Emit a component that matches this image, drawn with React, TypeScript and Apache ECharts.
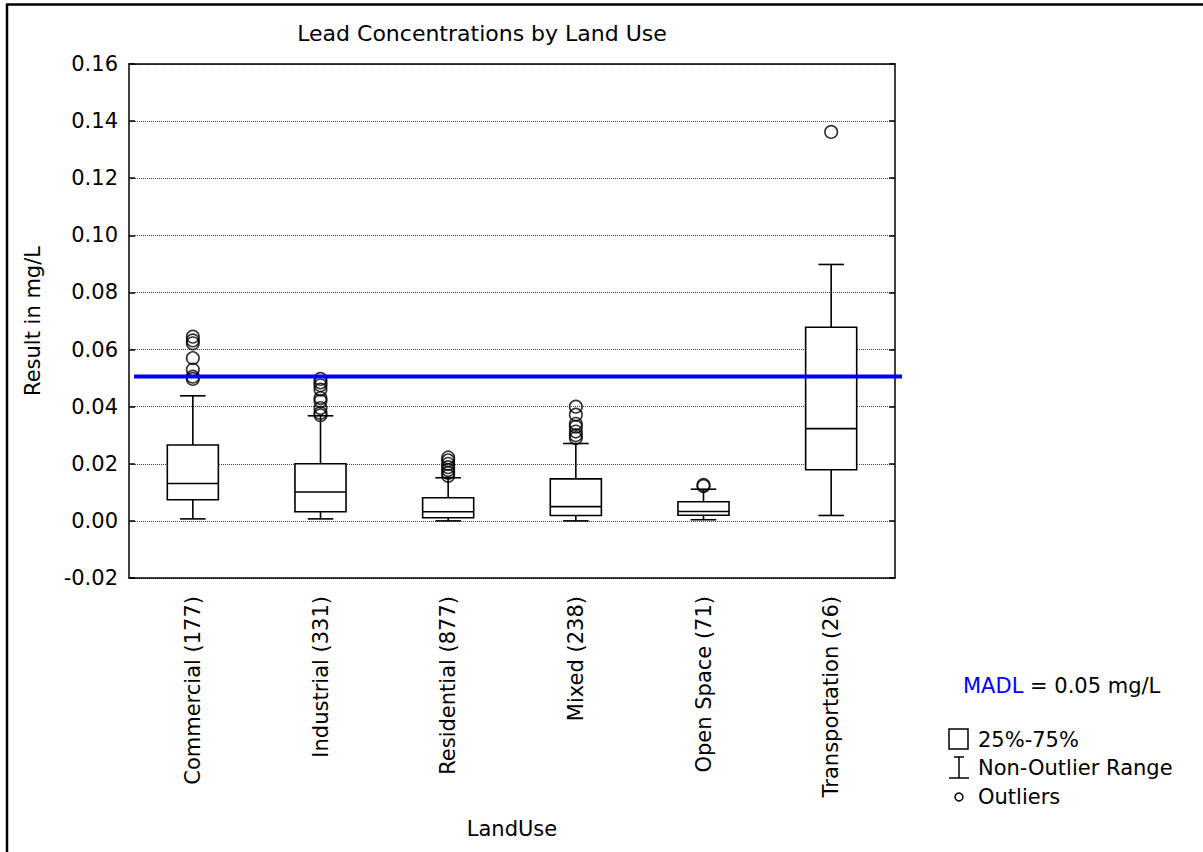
import React, { useEffect, useRef } from "react";
import * as echarts from "echarts";

const categories = [
  "Commercial (177)",
  "Industrial (331)",
  "Residential (877)",
  "Mixed (238)",
  "Open Space (71)",
  "Transportation (26)",
];
const whiskerLow = [0.0007, 0.0007, 0.0, 0.0, 0.0004, 0.0019];
const q1 = [0.0074, 0.0032, 0.0011, 0.0019, 0.002, 0.0179];
const median = [0.0131, 0.0101, 0.0032, 0.005, 0.0033, 0.0323];
const q3 = [0.0266, 0.02, 0.0081, 0.0147, 0.0067, 0.0678];
const whiskerHigh = [0.0438, 0.0368, 0.0151, 0.0271, 0.0111, 0.0898];
const outlierCommercial = [0.0645, 0.0632, 0.0622, 0.057, 0.053, 0.0505, 0.0497];
const outlierIndustrial = [0.0497, 0.0485, 0.0475, 0.046, 0.043, 0.042, 0.0395, 0.0378, 0.037];
const outlierResidential = [0.0222, 0.0212, 0.02, 0.0188, 0.0178, 0.0168, 0.0158];
const outlierMixed = [0.04, 0.0372, 0.034, 0.033, 0.0313, 0.03, 0.029];
const outlierOpenSpace = [0.0126, 0.0122];
const outlierTransportation = [0.1362];
const outliers = [
  outlierCommercial,
  outlierIndustrial,
  outlierResidential,
  outlierMixed,
  outlierOpenSpace,
  outlierTransportation,
];
const madlLevel = 0.0506;
const yMin = -0.02;
const yMax = 0.16;
const yStep = 0.02;

const FONT = "DejaVu Sans";

export default function App() {
  const ref = useRef<HTMLDivElement>(null);

  useEffect(() => {
    if (!ref.current) return;
    const chart = echarts.init(ref.current, null, { renderer: "svg" });

    const boxData = categories.map((_, i) => [
      i,
      whiskerLow[i],
      q1[i],
      median[i],
      q3[i],
      whiskerHigh[i],
    ]);
    const outlierData: number[][] = [];
    outliers.forEach((arr, i) => arr.forEach((v) => outlierData.push([i, v])));

    const axisText = { fontFamily: FONT, fontSize: 21, color: "#000" };
    const black = { color: "#000", width: 1.5 };

    const option: any = {
      animation: false,
      backgroundColor: "#fff",
      title: {
        text: "Lead Concentrations by Land Use",
        left: 482,
        top: 22,
        padding: 0,
        textAlign: "center",
        textStyle: { fontFamily: FONT, fontSize: 22, fontWeight: "normal", color: "#000" },
      },
      grid: { left: 129, right: 308, top: 64, bottom: 274, containLabel: false },
      xAxis: [
        {
          type: "category",
          data: categories,
          position: "bottom",
          boundaryGap: true,
          axisLine: { onZero: false, lineStyle: black },
          axisTick: { inside: true, length: 6, alignWithLabel: true, lineStyle: black },
          axisLabel: { ...axisText, rotate: 90, margin: 18, interval: 0 },
          splitLine: { show: false },
          name: "LandUse",
          nameLocation: "middle",
          nameGap: 240,
          nameTextStyle: axisText,
        },
        {
          type: "category",
          data: categories,
          position: "top",
          boundaryGap: true,
          axisLine: { onZero: false, lineStyle: black },
          axisTick: { inside: true, length: 6, alignWithLabel: true, lineStyle: black },
          axisLabel: { show: false },
          splitLine: { show: false },
        },
      ],
      yAxis: [
        {
          type: "value",
          min: yMin,
          max: yMax,
          interval: yStep,
          position: "left",
          axisLine: { show: true, onZero: false, lineStyle: black },
          axisTick: { show: true, inside: true, length: 6, lineStyle: black },
          axisLabel: { ...axisText, margin: 11, formatter: (v: number) => v.toFixed(2) },
          splitLine: { show: true, lineStyle: { type: "dotted", color: "#444", width: 1 } },
          name: "Result in mg/L",
          nameLocation: "middle",
          nameRotate: 90,
          nameGap: 86,
          nameTextStyle: axisText,
        },
        {
          type: "value",
          min: yMin,
          max: yMax,
          interval: yStep,
          position: "right",
          axisLine: { show: true, onZero: false, lineStyle: black },
          axisTick: { show: true, inside: true, length: 6, lineStyle: black },
          axisLabel: { show: false },
          splitLine: { show: false },
        },
      ],
      series: [
        {
          type: "custom",
          name: "box",
          xAxisIndex: 0,
          yAxisIndex: 0,
          encode: { x: 0, y: [1, 2, 3, 4, 5] },
          data: boxData,
          z: 3,
          renderItem: (params: any, api: any) => {
            const x = api.value(0);
            const pLow = api.coord([x, api.value(1)]);
            const pQ1 = api.coord([x, api.value(2)]);
            const pMed = api.coord([x, api.value(3)]);
            const pQ3 = api.coord([x, api.value(4)]);
            const pHigh = api.coord([x, api.value(5)]);
            const band = api.size([1, 0])[0];
            const bw = band * 0.4;
            const cw = band * 0.2;
            const cx = pMed[0];
            const st = { stroke: "#000", lineWidth: 1.6, fill: "none" };
            return {
              type: "group",
              children: [
                { type: "line", shape: { x1: cx, y1: pQ3[1], x2: cx, y2: pHigh[1] }, style: st },
                { type: "line", shape: { x1: cx - cw / 2, y1: pHigh[1], x2: cx + cw / 2, y2: pHigh[1] }, style: st },
                { type: "line", shape: { x1: cx, y1: pQ1[1], x2: cx, y2: pLow[1] }, style: st },
                { type: "line", shape: { x1: cx - cw / 2, y1: pLow[1], x2: cx + cw / 2, y2: pLow[1] }, style: st },
                {
                  type: "rect",
                  shape: { x: cx - bw / 2, y: pQ3[1], width: bw, height: pQ1[1] - pQ3[1] },
                  style: { ...st, fill: "#fff" },
                },
                { type: "line", shape: { x1: cx - bw / 2, y1: pMed[1], x2: cx + bw / 2, y2: pMed[1] }, style: st },
              ],
            };
          },
        },
        {
          type: "scatter",
          name: "Outliers",
          xAxisIndex: 0,
          yAxisIndex: 0,
          data: outlierData,
          symbol: "circle",
          symbolSize: 12.5,
          z: 4,
          itemStyle: { color: "rgba(0,0,0,0)", borderColor: "#000", borderWidth: 1.6 },
        },
        {
          type: "custom",
          name: "MADL",
          xAxisIndex: 0,
          yAxisIndex: 0,
          encode: { x: 0, y: 1 },
          data: [[0, madlLevel]],
          z: 5,
          renderItem: (params: any, api: any) => {
            const cs = params.coordSys;
            const p = api.coord([0, api.value(1)]);
            return {
              type: "line",
              shape: { x1: cs.x + 5, y1: p[1], x2: cs.x + cs.width + 7, y2: p[1] },
              style: { stroke: "#0000ff", lineWidth: 4 },
            };
          },
        },
      ],
      graphic: [
        { type: "line", shape: { x1: 6, y1: 4.5, x2: 1203, y2: 4.5 }, style: { stroke: "#000", lineWidth: 2.5 } },
        { type: "line", shape: { x1: 7, y1: 4, x2: 7, y2: 852 }, style: { stroke: "#000", lineWidth: 2.5 } },
        {
          type: "text",
          x: 963,
          y: 686,
          style: {
            text: "{a|MADL} = 0.05 mg/L",
            fontFamily: FONT,
            fontSize: 21,
            fill: "#000",
            verticalAlign: "middle",
            rich: { a: { fill: "#0000ff", fontFamily: FONT, fontSize: 21 } },
          },
        },
        { type: "rect", shape: { x: 949, y: 729, width: 19, height: 20 }, style: { stroke: "#000", lineWidth: 1.5, fill: "none" } },
        { type: "line", shape: { x1: 959, y1: 757, x2: 959, y2: 778 }, style: { stroke: "#000", lineWidth: 1.5 } },
        { type: "line", shape: { x1: 954, y1: 757, x2: 964, y2: 757 }, style: { stroke: "#000", lineWidth: 1.5 } },
        { type: "line", shape: { x1: 949, y1: 778, x2: 969, y2: 778 }, style: { stroke: "#000", lineWidth: 1.5 } },
        { type: "circle", shape: { cx: 959, cy: 797, r: 4 }, style: { stroke: "#000", lineWidth: 1.5, fill: "none" } },
        { type: "text", x: 978, y: 740, style: { text: "25%-75%", fontFamily: FONT, fontSize: 21, fill: "#000", verticalAlign: "middle" } },
        { type: "text", x: 978, y: 768, style: { text: "Non-Outlier Range", fontFamily: FONT, fontSize: 21, fill: "#000", verticalAlign: "middle" } },
        { type: "text", x: 978, y: 797, style: { text: "Outliers", fontFamily: FONT, fontSize: 21, fill: "#000", verticalAlign: "middle" } },
      ],
    };

    chart.setOption(option);
    return () => chart.dispose();
  }, []);

  return (
    <div
      ref={ref}
      style={{ position: "fixed", left: 0, top: 0, width: 1203, height: 852, background: "#fff" }}
    />
  );
}
